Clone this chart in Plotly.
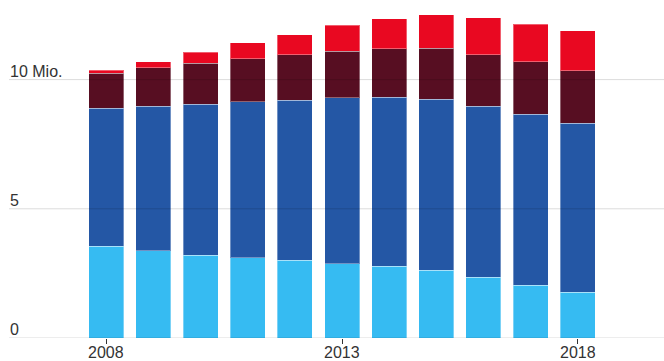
import plotly.graph_objects as go

years = [2008, 2009, 2010, 2011, 2012, 2013, 2014, 2015, 2016, 2017, 2018]
light_blue = [3.55, 3.37, 3.20, 3.11, 3.01, 2.88, 2.78, 2.62, 2.36, 2.04, 1.78]
dark_blue = [5.34, 5.60, 5.85, 6.04, 6.20, 6.41, 6.54, 6.62, 6.61, 6.62, 6.54]
maroon = [1.36, 1.48, 1.58, 1.66, 1.75, 1.80, 1.87, 1.98, 1.99, 2.03, 2.02]
red = [0.11, 0.24, 0.43, 0.61, 0.77, 1.02, 1.16, 1.31, 1.43, 1.45, 1.55]

series = [
    ("A", light_blue, "#36BBF2"),
    ("B", dark_blue, "#2457A5"),
    ("C", maroon, "#570E22"),
    ("D", red, "#E90821"),
]

y_ticks = [0, 5, 10]
y_labels = ["0", "5", "10 Mio."]
x_ticks = [2008, 2013, 2018]

fig = go.Figure()
for name, vals, col in series:
    fig.add_trace(go.Bar(
        x=years, y=vals, name=name,
        marker=dict(color=col, line=dict(color="rgba(255,255,255,0.35)", width=1)),
        hoverinfo="skip",
    ))

fig.update_layout(
    template="none",
    barmode="stack",
    bargap=0.257,
    width=664, height=361,
    margin=dict(l=9, r=0, t=15, b=23, pad=0),
    paper_bgcolor="white", plot_bgcolor="white",
    showlegend=False,
    font=dict(family="Liberation Sans, Arial, sans-serif", color="#333333"),
)
fig.update_xaxes(
    automargin=False,
    range=[2005.935, 2019.83],
    tickvals=x_ticks, showticklabels=False,
    ticks="outside", ticklen=5, tickcolor="#333333", tickwidth=1,
    showgrid=False, zeroline=False, showline=False,
)
fig.update_yaxes(
    automargin=False,
    range=[0, 12.5],
    showticklabels=False, showgrid=False, zeroline=False, showline=False,
)
for v, lab in zip(y_ticks, y_labels):
    fig.add_shape(type="line", xref="paper", yref="y", x0=0, x1=1, y0=v, y1=v,
                  line=dict(color="rgba(0,0,0,0.14)", width=1), layer="above")
    fig.add_annotation(xref="paper", yref="y", x=0, y=v, text=lab, showarrow=False,
                       xanchor="left", yanchor="bottom", yshift=-1, borderpad=0,
                       font=dict(size=16, color="#333333"))
for v in x_ticks:
    fig.add_annotation(xref="x", yref="paper", x=v, y=0, text=str(v), showarrow=False,
                       xanchor="center", yanchor="top", yshift=-6, borderpad=0,
                       height=14, valign="middle",
                       font=dict(size=16, color="#333333"))

fig.write_html("out.html", config={"displayModeBar": False},
               post_script="document.body.style.margin='0';document.body.style.overflow='hidden';")
